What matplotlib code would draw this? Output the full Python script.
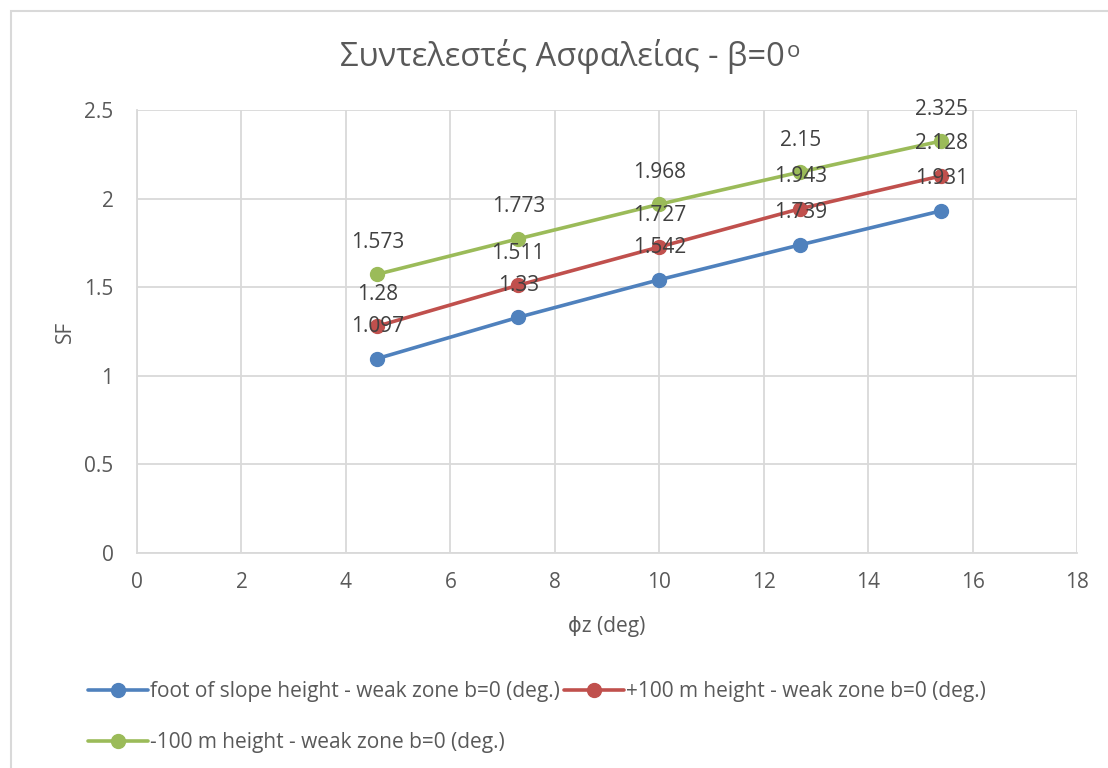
import matplotlib
matplotlib.use("Agg")
import matplotlib.pyplot as plt
from matplotlib.patches import Rectangle

# Friction angle of the weak zone (deg)
phi_z = [4.6, 7.3, 10, 12.7, 15.4]

# Safety factors per slope height case
sf_foot = [1.097, 1.33, 1.542, 1.739, 1.931]
sf_plus100 = [1.28, 1.511, 1.727, 1.943, 2.128]
sf_minus100 = [1.573, 1.773, 1.968, 2.15, 2.325]

series_labels = [
    "foot of slope height - weak zone b=0 (deg.)",
    "+100 m height - weak zone b=0 (deg.)",
    "-100 m height - weak zone b=0 (deg.)",
]
colors = ["#4F81BD", "#C0504D", "#9BBB59"]

x_ticks = [0, 2, 4, 6, 8, 10, 12, 14, 16, 18]
y_ticks = [0, 0.5, 1, 1.5, 2, 2.5]

title_text = "Συντελεστές Ασφαλείας - β=0"
xlabel_text = "ϕz (deg)"
ylabel_text = "SF"

FONT = ["Open Sans", "DejaVu Sans"]
TXT = "#595959"
GRID = "#D9D9D9"

plt.rcParams["font.family"] = FONT

W, H = 1108, 768
fig = plt.figure(figsize=(W / 100, H / 100), dpi=100)

# chart-area frame (continues past the right and bottom edges)
fig.patches.append(Rectangle((11 / W, -0.1), 1.2, 1 - 11 / H + 0.1,
                             transform=fig.transFigure, fill=False,
                             edgecolor=GRID, linewidth=1.5))

ax = fig.add_axes([137 / W, 1 - 553 / H, (1077 - 137) / W, (553 - 110) / H])
ax.set_xlim(0, 18)
ax.set_ylim(0, 2.5)
ax.set_xticks(x_ticks)
ax.set_yticks(y_ticks)
ax.set_xticklabels([str(v) for v in x_ticks])
ax.set_yticklabels([f"{v:g}" for v in y_ticks])
ax.grid(True, color=GRID, linewidth=1.3)
ax.set_axisbelow(True)
for s in ["top", "right"]:
    ax.spines[s].set_visible(False)
for s in ["left", "bottom"]:
    ax.spines[s].set_color(GRID)
    ax.spines[s].set_linewidth(1.3)
ax.tick_params(axis="both", length=0, labelsize=15, labelcolor=TXT)
ax.tick_params(axis="x", pad=14)
ax.tick_params(axis="y", pad=17)

all_series = [sf_foot, sf_plus100, sf_minus100]
handles = []
for vals, col, lab in zip(all_series, colors, series_labels):
    ln, = ax.plot(phi_z, vals, color=col, linewidth=2.6, marker="o",
                  markersize=10, label=lab, solid_capstyle="round", zorder=3)
    handles.append(ln)
    for xv, yv in zip(phi_z, vals):
        ax.annotate(f"{yv:g}", (xv, yv), xytext=(0, 23), textcoords="offset points",
                    ha="center", va="center", fontsize=15, color="#404040",
                    zorder=5, annotation_clip=False)

ax.set_xlabel(xlabel_text, fontsize=15, color=TXT, labelpad=16)
ax.set_ylabel(ylabel_text, fontsize=15, color=TXT, labelpad=6)

# title with a raised "o" after the zero
t = fig.text(562 / W, 1 - 57 / H, title_text, ha="center", va="center",
             fontsize=23.5, color=TXT)
fig.canvas.draw()
bb = t.get_window_extent()
fig.text((bb.x1 + 2) / W, (bb.y1 - 12) / H, "o", ha="left", va="center",
         fontsize=16, color=TXT)

leg = fig.legend([handles[0], handles[2], handles[1]],
                 [series_labels[0], series_labels[2], series_labels[1]],
                 ncol=2, loc="upper left", bbox_to_anchor=(88 / W, 1 - 681 / H),
                 frameon=False, fontsize=15, handlelength=2.9, handletextpad=0.1,
                 columnspacing=0.15, labelspacing=1.45, borderpad=0, borderaxespad=0,
                 labelcolor=TXT)

fig.savefig("out.png", dpi=100)
